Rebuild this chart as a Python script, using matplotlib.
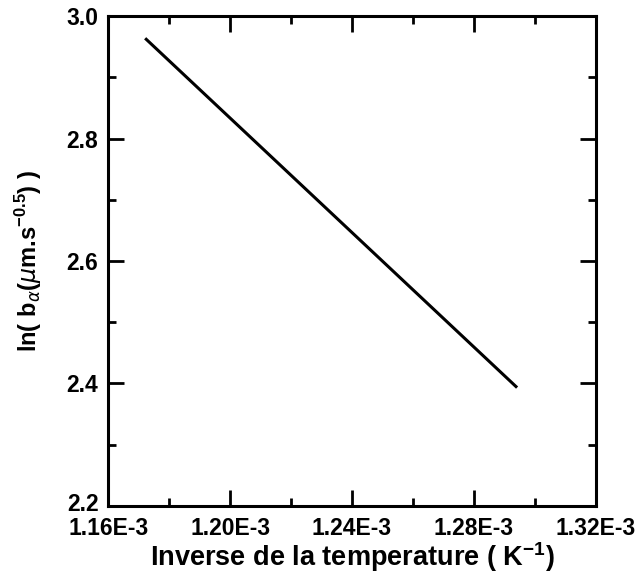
import numpy as np
import matplotlib
matplotlib.use('Agg')
import matplotlib.pyplot as plt
import matplotlib.transforms as mtransforms
from matplotlib.ticker import MultipleLocator, FormatStrFormatter

plt.rcParams['font.family'] = ['Liberation Sans', 'DejaVu Sans']
plt.rcParams['mathtext.fontset'] = 'custom'
plt.rcParams['mathtext.rm'] = 'Liberation Sans:bold'
plt.rcParams['mathtext.bf'] = 'Liberation Sans:bold'
plt.rcParams['mathtext.it'] = 'DejaVu Sans:italic'

# straight Arrhenius fit line (end points)
inv_T = [1.1725e-3, 1.2938e-3]
ln_b = [2.962, 2.395]

xticks = [1.16e-3, 1.20e-3, 1.24e-3, 1.28e-3, 1.32e-3]
xticklabels = ['1.16E-3', '1.20E-3', '1.24E-3', '1.28E-3', '1.32E-3']
yticks = [2.2, 2.4, 2.6, 2.8, 3.0]

fig = plt.figure(figsize=(6.4, 5.73), dpi=100)
ax = fig.add_axes([0.169, 0.117, 0.762, 0.855])

ax.plot(inv_T, ln_b, color='black', lw=2.2)

ax.set_xlim(1.16e-3, 1.32e-3)
ax.set_ylim(2.2, 3.0)
ax.set_xticks(xticks)
ax.set_xticklabels(xticklabels)
ax.xaxis.set_minor_locator(MultipleLocator(0.02e-3))
ax.set_yticks(yticks)
ax.yaxis.set_major_formatter(FormatStrFormatter('%.1f'))
ax.yaxis.set_minor_locator(MultipleLocator(0.1))

ax.tick_params(which='both', direction='in', top=True, right=True, width=2.0)
ax.tick_params(which='major', length=11.5, labelsize=16.5)
ax.tick_params(which='minor', length=5.5)
ax.tick_params(axis='x', which='major', pad=8)
ax.tick_params(axis='y', which='major', pad=7)
for lab in ax.get_xticklabels() + ax.get_yticklabels():
    lab.set_fontweight('bold')
for s in ax.spines.values():
    s.set_linewidth(2.2)

# lift the bottom y label a touch so it clears 1.16E-3
fig.canvas.draw()
lowest = ax.yaxis.get_major_ticks()[0].label1
lowest.set_transform(lowest.get_transform() +
                     mtransforms.ScaledTranslation(0, 3 / 72, fig.dpi_scale_trans))

ax.set_xlabel(r'Inverse de la temperature ( K$^{-1}$)', fontsize=19.5,
              fontweight='bold', labelpad=0)
ax.set_ylabel(r'ln( b$_{\alpha}$($\mu$m.s$^{-0.5}$) )', fontsize=17,
              fontweight='bold', labelpad=16)

fig.savefig('out.png', dpi=100, facecolor='white')
